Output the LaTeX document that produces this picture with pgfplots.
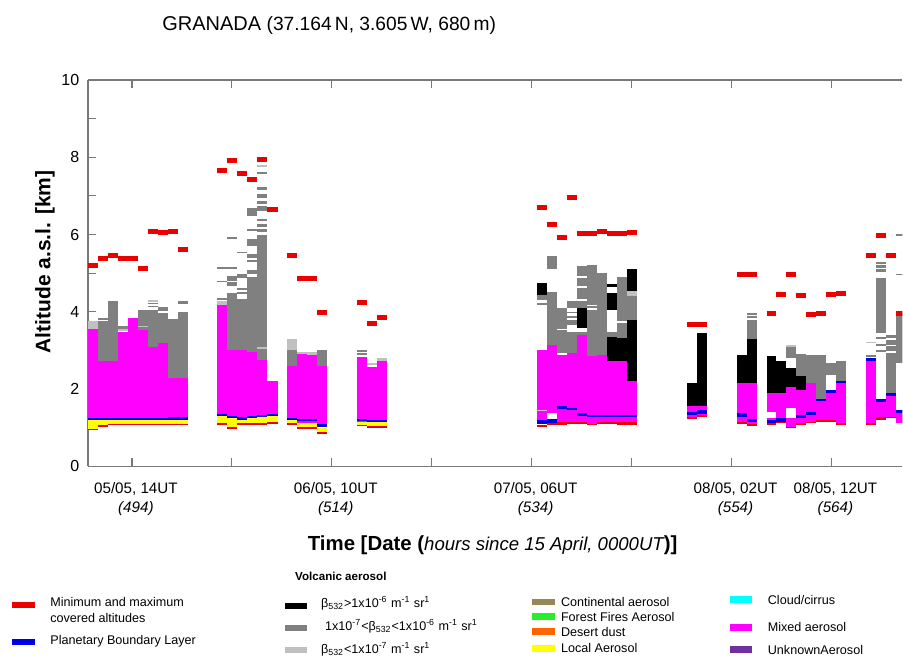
\documentclass[border=0pt]{standalone}
\usepackage{pgfplots}
\pgfplotsset{compat=1.18}
\usepackage{fontspec}
\setmainfont{Liberation Sans}

\definecolor{mag}{RGB}{255,0,255}
\definecolor{vgray}{RGB}{128,128,128}
\definecolor{vlight}{RGB}{192,192,192}
\definecolor{loc}{RGB}{255,255,0}
\definecolor{pbl}{RGB}{0,0,230}
\definecolor{mkred}{RGB}{235,0,0}
\definecolor{cont}{RGB}{150,135,85}
\definecolor{fire}{RGB}{40,240,40}
\definecolor{dust}{RGB}{255,100,0}
\definecolor{cloud}{RGB}{0,255,255}
\definecolor{unk}{RGB}{112,48,160}
\definecolor{axgray}{RGB}{120,120,120}

% layer rectangle: colour, x-left, x-right, bottom, top (hours, km)
\newcommand{\rb}[5]{\addplot[fill=#1,draw=none,forget plot] coordinates {(#2,#4) (#3,#4) (#3,#5) (#2,#5)};}
% min/max covered altitude marker
\newcommand{\mk}[3]{\addplot[draw=mkred,line width=2.5pt,forget plot] coordinates {(#1,#3) (#2,#3)};}

\begin{document}
\begin{tikzpicture}
\begin{scope}[x=0.5pt,y=-0.5pt,shift={(-44.15pt,233.35pt)}]
\useasboundingbox (0,0) rectangle (903,659);
\end{scope}

\begin{axis}[
  scale only axis,
  width=407.35pt, height=193.35pt,
  xmin=489.63, xmax=571.1,
  ymin=0, ymax=10,
  axis x line*=box,
  axis y line*=left,
  axis line style={draw=axgray,-},
  x axis line style={line width=0.6pt},
  y axis line style={line width=1.1pt},
  xtick={494,504,...,564},
  xticklabels={{05/05, 14UT\\\textit{(494)}},{},{06/05, 10UT\\\textit{(514)}},{},{07/05, 06UT\\\textit{(534)}},{},{08/05, 02UT\\\textit{(554)}},{08/05, 12UT\\\textit{(564)}}},
  xtick pos=both,
  ytick={0,2,...,10},
  minor ytick={1,3,...,9},
  ytick pos=left,
  tick align=inside,
  major tick length=4pt,
  minor tick length=4pt,
  tick style={axgray,line width=0.6pt},
  xticklabel style={align=center,font=\fontsize{7.6}{9.5}\selectfont,yshift=-4.5pt,xshift=2pt},
  yticklabel style={font=\fontsize{8}{9}\selectfont,xshift=-1pt},
  /pgf/number format/assume math mode=true,
]
% ---- group 1
\rb{mkred}{489.6}{490.6}{0.93}{0.98}
\rb{loc}{489.6}{490.6}{0.98}{1.19}
\rb{mag}{489.6}{490.6}{1.25}{3.56}
\rb{pbl}{489.6}{490.6}{1.19}{1.25}
\rb{vlight}{489.6}{490.6}{3.56}{3.77}
\mk{489.6}{490.6}{5.19}

\rb{mkred}{490.6}{491.6}{1.02}{1.06}
\rb{loc}{490.6}{491.6}{1.06}{1.19}
\rb{pbl}{490.6}{491.6}{1.19}{1.25}
\rb{mag}{490.6}{491.6}{1.25}{2.73}
\rb{vgray}{490.6}{491.6}{2.73}{3.75}
\rb{vgray}{490.6}{491.6}{3.80}{3.84}
\mk{490.6}{491.6}{5.39}

\rb{mkred}{491.6}{492.6}{1.06}{1.10}
\rb{loc}{491.6}{492.6}{1.10}{1.19}
\rb{pbl}{491.6}{492.6}{1.19}{1.26}
\rb{mag}{491.6}{492.6}{1.26}{2.73}
\rb{vgray}{491.6}{492.6}{2.73}{4.28}
\mk{491.6}{492.6}{5.47}

\rb{mkred}{492.6}{493.6}{1.06}{1.10}
\rb{loc}{492.6}{493.6}{1.10}{1.19}
\rb{pbl}{492.6}{493.6}{1.19}{1.26}
\rb{mag}{492.6}{493.6}{1.26}{3.49}
\rb{vlight}{492.6}{493.6}{3.50}{3.55}
\rb{vgray}{492.6}{493.6}{3.56}{3.62}
\mk{492.6}{493.6}{5.39}

\rb{mkred}{493.6}{494.6}{1.06}{1.10}
\rb{loc}{493.6}{494.6}{1.10}{1.19}
\rb{pbl}{493.6}{494.6}{1.19}{1.26}
\rb{mag}{493.6}{494.6}{1.26}{3.85}
\mk{493.6}{494.6}{5.39}

\rb{mkred}{494.6}{495.6}{1.06}{1.10}
\rb{loc}{494.6}{495.6}{1.10}{1.19}
\rb{pbl}{494.6}{495.6}{1.19}{1.26}
\rb{mag}{494.6}{495.6}{1.26}{3.53}
\rb{vgray}{494.6}{495.6}{3.53}{4.05}
\rb{vlight}{494.6}{495.6}{3.60}{3.64}
\mk{494.6}{495.6}{5.13}

\rb{mkred}{495.6}{496.6}{1.06}{1.10}
\rb{loc}{495.6}{496.6}{1.10}{1.19}
\rb{pbl}{495.6}{496.6}{1.19}{1.26}
\rb{mag}{495.6}{496.6}{1.26}{3.09}
\rb{vgray}{495.6}{496.6}{3.09}{4.05}
\rb{vgray}{495.6}{496.6}{4.12}{4.16}
\rb{vgray}{495.6}{496.6}{4.19}{4.22}
\rb{vlight}{495.6}{496.6}{4.26}{4.30}
\mk{495.6}{496.6}{6.08}

\rb{mkred}{496.6}{497.6}{1.06}{1.10}
\rb{loc}{496.6}{497.6}{1.10}{1.19}
\rb{pbl}{496.6}{497.6}{1.19}{1.26}
\rb{mag}{496.6}{497.6}{1.26}{3.19}
\rb{vgray}{496.6}{497.6}{3.19}{3.98}
\rb{vgray}{496.6}{497.6}{4.03}{4.12}
\mk{496.6}{497.6}{6.04}

\rb{mkred}{497.6}{498.6}{1.06}{1.10}
\rb{loc}{497.6}{498.6}{1.10}{1.21}
\rb{pbl}{497.6}{498.6}{1.21}{1.29}
\rb{mag}{497.6}{498.6}{1.29}{2.29}
\rb{vgray}{497.6}{498.6}{2.29}{3.82}
\mk{497.6}{498.6}{6.08}

\rb{mkred}{498.6}{499.6}{1.06}{1.10}
\rb{loc}{498.6}{499.6}{1.10}{1.21}
\rb{pbl}{498.6}{499.6}{1.21}{1.29}
\rb{mag}{498.6}{499.6}{1.29}{2.29}
\rb{vgray}{498.6}{499.6}{2.29}{3.99}
\rb{vgray}{498.6}{499.6}{4.21}{4.27}
\mk{498.6}{499.6}{5.62}

% ---- group 2
\rb{mkred}{502.5}{503.5}{1.07}{1.12}
\rb{loc}{502.5}{503.5}{1.12}{1.31}
\rb{pbl}{502.5}{503.5}{1.31}{1.36}
\rb{mag}{502.5}{503.5}{1.36}{4.18}
\rb{vlight}{502.5}{503.5}{4.18}{4.28}
\rb{vgray}{502.5}{503.5}{4.30}{4.35}
\rb{vgray}{502.5}{503.5}{4.76}{4.80}
\rb{vgray}{502.5}{503.5}{5.12}{5.16}
\mk{502.5}{503.5}{7.65}

\rb{mkred}{503.5}{504.5}{0.97}{1.03}
\rb{loc}{503.5}{504.5}{1.03}{1.24}
\rb{pbl}{503.5}{504.5}{1.24}{1.31}
\rb{mag}{503.5}{504.5}{1.31}{3.02}
\rb{vgray}{503.5}{504.5}{3.02}{4.48}
\rb{vgray}{503.5}{504.5}{4.66}{4.76}
\rb{vgray}{503.5}{504.5}{4.80}{4.92}
\rb{vgray}{503.5}{504.5}{5.11}{5.15}
\rb{vgray}{503.5}{504.5}{5.89}{5.93}
\mk{503.5}{504.5}{7.91}

\rb{mkred}{504.5}{505.5}{1.08}{1.12}
\rb{loc}{504.5}{505.5}{1.12}{1.21}
\rb{pbl}{504.5}{505.5}{1.21}{1.27}
\rb{mag}{504.5}{505.5}{1.27}{3.02}
\rb{vgray}{504.5}{505.5}{3.02}{4.33}
\rb{vgray}{504.5}{505.5}{4.45}{4.52}
\rb{vgray}{504.5}{505.5}{4.56}{4.62}
\rb{vgray}{504.5}{505.5}{4.88}{4.98}
\rb{vgray}{504.5}{505.5}{5.52}{5.56}
\mk{504.5}{505.5}{7.59}

\rb{mkred}{505.5}{506.5}{1.08}{1.12}
\rb{loc}{505.5}{506.5}{1.12}{1.24}
\rb{pbl}{505.5}{506.5}{1.24}{1.31}
\rb{mag}{505.5}{506.5}{1.31}{2.95}
\rb{vgray}{505.5}{506.5}{2.95}{4.91}
\rb{vgray}{505.5}{506.5}{4.98}{5.08}
\rb{vgray}{505.5}{506.5}{5.28}{5.34}
\rb{vgray}{505.5}{506.5}{5.40}{5.50}
\rb{vgray}{505.5}{506.5}{5.70}{5.88}
\rb{vgray}{505.5}{506.5}{6.10}{6.14}
\rb{vgray}{505.5}{506.5}{6.48}{6.68}
\mk{505.5}{506.5}{7.43}

\rb{mkred}{506.5}{507.5}{1.08}{1.12}
\rb{loc}{506.5}{507.5}{1.12}{1.28}
\rb{pbl}{506.5}{507.5}{1.28}{1.33}
\rb{mag}{506.5}{507.5}{1.33}{2.76}
\rb{vgray}{506.5}{507.5}{2.76}{5.99}
\rb{vlight}{506.5}{507.5}{3.05}{3.09}
\rb{vgray}{506.5}{507.5}{6.06}{6.14}
\rb{vgray}{506.5}{507.5}{6.20}{6.26}
\rb{vgray}{506.5}{507.5}{6.34}{6.40}
\rb{vgray}{506.5}{507.5}{6.62}{6.74}
\rb{vgray}{506.5}{507.5}{6.80}{6.86}
\rb{vgray}{506.5}{507.5}{6.94}{7.06}
\rb{vgray}{506.5}{507.5}{7.16}{7.22}
\rb{vgray}{506.5}{507.5}{7.56}{7.62}
\rb{vlight}{506.5}{507.5}{7.74}{7.80}
\mk{506.5}{507.5}{7.93}

\rb{mkred}{507.5}{508.6}{1.10}{1.16}
\rb{loc}{507.5}{508.6}{1.16}{1.31}
\rb{pbl}{507.5}{508.6}{1.31}{1.36}
\rb{mag}{507.5}{508.6}{1.36}{2.22}
\mk{507.5}{508.6}{6.66}

% ---- group 3
\rb{mkred}{509.5}{510.5}{1.07}{1.11}
\rb{loc}{509.5}{510.5}{1.11}{1.19}
\rb{pbl}{509.5}{510.5}{1.19}{1.25}
\rb{mag}{509.5}{510.5}{1.25}{2.59}
\rb{vgray}{509.5}{510.5}{2.59}{3.02}
\rb{vlight}{509.5}{510.5}{3.02}{3.30}
\mk{509.5}{510.5}{5.47}

\rb{mkred}{510.5}{511.5}{0.97}{1.01}
\rb{loc}{510.5}{511.5}{1.01}{1.12}
\rb{mag}{510.5}{511.5}{1.12}{2.91}
\rb{pbl}{510.5}{511.5}{1.18}{1.23}
\rb{vlight}{510.5}{511.5}{2.91}{2.97}
\mk{510.5}{511.5}{4.87}

\rb{mkred}{511.5}{512.5}{0.98}{1.02}
\rb{loc}{511.5}{512.5}{1.02}{1.13}
\rb{mag}{511.5}{512.5}{1.13}{2.89}
\rb{pbl}{511.5}{512.5}{1.17}{1.22}
\rb{vlight}{511.5}{512.5}{2.89}{2.95}
\mk{511.5}{512.5}{4.87}

\rb{mkred}{512.5}{513.5}{0.85}{0.90}
\rb{loc}{512.5}{513.5}{0.90}{1.00}
\rb{pbl}{512.5}{513.5}{1.02}{1.10}
\rb{mag}{512.5}{513.5}{1.10}{2.59}
\rb{vgray}{512.5}{513.5}{2.59}{3.00}
\mk{512.5}{513.5}{3.97}

% ---- group 4
\rb{mkred}{516.5}{517.5}{1.04}{1.08}
\rb{loc}{516.5}{517.5}{1.08}{1.15}
\rb{mag}{516.5}{517.5}{1.15}{2.83}
\rb{pbl}{516.5}{517.5}{1.17}{1.23}
\rb{vgray}{516.5}{517.5}{2.88}{2.93}
\rb{vgray}{516.5}{517.5}{2.96}{3.02}
\mk{516.5}{517.5}{4.25}

\rb{mkred}{517.5}{518.5}{1.00}{1.04}
\rb{loc}{517.5}{518.5}{1.04}{1.16}
\rb{pbl}{517.5}{518.5}{1.16}{1.21}
\rb{mag}{517.5}{518.5}{1.21}{2.57}
\rb{vlight}{517.5}{518.5}{2.62}{2.68}
\mk{517.5}{518.5}{3.71}

\rb{mkred}{518.5}{519.5}{1.00}{1.04}
\rb{loc}{518.5}{519.5}{1.04}{1.16}
\rb{pbl}{518.5}{519.5}{1.16}{1.21}
\rb{mag}{518.5}{519.5}{1.21}{2.72}
\rb{vlight}{518.5}{519.5}{2.72}{2.80}
\mk{518.5}{519.5}{3.86}

% ---- group 5
\rb{mkred}{534.5}{535.5}{1.02}{1.06}
\rb{pbl}{534.5}{535.5}{1.10}{1.21}
\rb{mag}{534.5}{535.5}{1.21}{3.02}
\rb{vlight}{534.5}{535.5}{1.43}{1.47}
\rb{vgray}{534.5}{535.5}{4.18}{4.24}
\rb{vgray}{534.5}{535.5}{4.31}{4.44}
\rb{black}{534.5}{535.5}{4.44}{4.74}
\mk{534.5}{535.5}{6.70}

\rb{mkred}{535.5}{536.5}{1.08}{1.12}
\rb{pbl}{535.5}{536.5}{1.12}{1.23}
\rb{mag}{535.5}{536.5}{1.38}{3.15}
\rb{vgray}{535.5}{536.5}{3.15}{4.50}
\rb{vgray}{535.5}{536.5}{5.10}{5.45}
\mk{535.5}{536.5}{6.27}

\rb{mkred}{536.5}{537.5}{1.08}{1.14}
\rb{mag}{536.5}{537.5}{1.14}{2.89}
\rb{pbl}{536.5}{537.5}{1.49}{1.55}
\rb{vgray}{536.5}{537.5}{2.93}{4.10}
\rb{white}{536.5}{537.5}{3.52}{3.56}
\mk{536.5}{537.5}{5.93}

\rb{mkred}{537.5}{538.5}{1.10}{1.14}
\rb{mag}{537.5}{538.5}{1.14}{2.93}
\rb{pbl}{537.5}{538.5}{1.46}{1.52}
\rb{vgray}{537.5}{538.5}{2.93}{3.49}
\rb{vgray}{537.5}{538.5}{3.66}{3.79}
\rb{vgray}{537.5}{538.5}{3.85}{3.90}
\rb{vgray}{537.5}{538.5}{3.97}{4.00}
\rb{vgray}{537.5}{538.5}{4.10}{4.27}
\mk{537.5}{538.5}{6.97}

\rb{mkred}{538.5}{539.5}{1.10}{1.14}
\rb{mag}{538.5}{539.5}{1.14}{3.41}
\rb{pbl}{538.5}{539.5}{1.30}{1.39}
\rb{vgray}{538.5}{539.5}{3.41}{3.49}
\rb{black}{538.5}{539.5}{3.58}{4.10}
\rb{vgray}{538.5}{539.5}{4.10}{5.19}
\rb{white}{538.5}{539.5}{4.29}{4.33}
\rb{white}{538.5}{539.5}{4.62}{4.66}
\rb{white}{538.5}{539.5}{4.88}{4.92}
\mk{538.5}{539.5}{6.02}

\rb{mkred}{539.5}{540.5}{1.06}{1.10}
\rb{mag}{539.5}{540.5}{1.10}{2.85}
\rb{pbl}{539.5}{540.5}{1.28}{1.33}
\rb{vgray}{539.5}{540.5}{2.85}{5.22}
\rb{white}{539.5}{540.5}{4.05}{4.09}
\rb{white}{539.5}{540.5}{4.14}{4.18}
\mk{539.5}{540.5}{6.02}

\rb{mkred}{540.5}{541.5}{1.10}{1.14}
\rb{mag}{540.5}{541.5}{1.14}{2.89}
\rb{pbl}{540.5}{541.5}{1.28}{1.33}
\rb{vgray}{540.5}{541.5}{2.89}{5.00}
\mk{540.5}{541.5}{6.08}

\rb{mkred}{541.5}{542.5}{1.10}{1.14}
\rb{mag}{541.5}{542.5}{1.14}{2.72}
\rb{pbl}{541.5}{542.5}{1.28}{1.33}
\rb{black}{541.5}{542.5}{2.72}{3.36}
\rb{vgray}{541.5}{542.5}{3.36}{3.49}
\rb{black}{541.5}{542.5}{4.05}{4.48}
\rb{black}{541.5}{542.5}{4.64}{4.72}
\mk{541.5}{542.5}{6.02}

\rb{mkred}{542.5}{543.5}{1.08}{1.14}
\rb{mag}{542.5}{543.5}{1.14}{2.72}
\rb{pbl}{542.5}{543.5}{1.28}{1.33}
\rb{black}{542.5}{543.5}{2.72}{3.32}
\rb{vgray}{542.5}{543.5}{3.32}{4.89}
\rb{white}{542.5}{543.5}{3.71}{3.75}
\mk{542.5}{543.5}{6.02}

\rb{mkred}{543.5}{544.5}{1.08}{1.14}
\rb{mag}{543.5}{544.5}{1.14}{2.20}
\rb{pbl}{543.5}{544.5}{1.28}{1.33}
\rb{black}{543.5}{544.5}{2.20}{3.79}
\rb{vgray}{543.5}{544.5}{3.79}{4.40}
\rb{vlight}{543.5}{544.5}{4.40}{4.53}
\rb{black}{543.5}{544.5}{4.53}{5.10}
\mk{543.5}{544.5}{6.06}

% ---- group 6
\rb{mkred}{549.5}{550.5}{1.22}{1.28}
\rb{mag}{549.5}{550.5}{1.28}{1.55}
\rb{pbl}{549.5}{550.5}{1.33}{1.40}
\rb{black}{549.5}{550.5}{1.55}{2.16}
\mk{549.5}{550.5}{3.66}

\rb{mkred}{550.5}{551.5}{1.28}{1.33}
\rb{mag}{550.5}{551.5}{1.33}{1.55}
\rb{pbl}{550.5}{551.5}{1.36}{1.47}
\rb{black}{550.5}{551.5}{1.55}{3.45}
\mk{550.5}{551.5}{3.66}

\rb{mkred}{554.5}{555.5}{1.09}{1.14}
\rb{mag}{554.5}{555.5}{1.14}{2.17}
\rb{pbl}{554.5}{555.5}{1.29}{1.38}
\rb{black}{554.5}{555.5}{2.17}{2.89}
\mk{554.5}{555.5}{4.97}

\rb{mkred}{555.5}{556.5}{1.05}{1.10}
\rb{mag}{555.5}{556.5}{1.10}{2.15}
\rb{pbl}{555.5}{556.5}{1.14}{1.23}
\rb{black}{555.5}{556.5}{2.15}{3.29}
\rb{vgray}{555.5}{556.5}{3.29}{3.79}
\rb{vgray}{555.5}{556.5}{3.83}{3.88}
\rb{vgray}{555.5}{556.5}{3.92}{3.97}
\mk{555.5}{556.5}{4.97}

\rb{mkred}{557.5}{558.5}{1.08}{1.12}
\rb{pbl}{557.5}{558.5}{1.12}{1.21}
\rb{mag}{557.5}{558.5}{1.21}{1.91}
\rb{white}{557.5}{558.5}{1.25}{1.42}
\rb{black}{557.5}{558.5}{1.91}{2.86}
\mk{557.5}{558.5}{3.95}

\rb{mkred}{558.5}{559.5}{1.11}{1.16}
\rb{pbl}{558.5}{559.5}{1.16}{1.25}
\rb{mag}{558.5}{559.5}{1.25}{1.90}
\rb{black}{558.5}{559.5}{1.90}{2.73}
\mk{558.5}{559.5}{4.44}

\rb{mkred}{559.5}{560.5}{0.99}{1.03}
\rb{mag}{559.5}{560.5}{1.03}{2.05}
\rb{white}{559.5}{560.5}{1.25}{1.52}
\rb{black}{559.5}{560.5}{2.05}{2.54}
\rb{vgray}{559.5}{560.5}{2.80}{3.09}
\rb{vlight}{559.5}{560.5}{3.10}{3.15}
\mk{559.5}{560.5}{4.97}

\rb{mkred}{560.5}{561.5}{1.08}{1.13}
\rb{mag}{560.5}{561.5}{1.13}{1.98}
\rb{pbl}{560.5}{561.5}{1.26}{1.34}
\rb{black}{560.5}{561.5}{1.98}{2.35}
\rb{vgray}{560.5}{561.5}{2.35}{2.91}
\mk{560.5}{561.5}{4.41}

\rb{mkred}{561.5}{562.5}{1.12}{1.16}
\rb{mag}{561.5}{562.5}{1.16}{2.16}
\rb{pbl}{561.5}{562.5}{1.34}{1.40}
\rb{vgray}{561.5}{562.5}{2.16}{2.89}
\mk{561.5}{562.5}{3.94}

\rb{mkred}{562.5}{563.5}{1.16}{1.21}
\rb{mag}{562.5}{563.5}{1.21}{1.72}
\rb{pbl}{562.5}{563.5}{1.68}{1.74}
\rb{vgray}{562.5}{563.5}{1.74}{2.89}
\mk{562.5}{563.5}{3.96}

\rb{mkred}{563.5}{564.5}{1.16}{1.21}
\rb{mag}{563.5}{564.5}{1.21}{1.91}
\rb{pbl}{563.5}{564.5}{1.91}{1.97}
\rb{vgray}{563.5}{564.5}{2.37}{2.67}
\mk{563.5}{564.5}{4.44}

\rb{mkred}{564.5}{565.5}{1.08}{1.12}
\rb{mag}{564.5}{565.5}{1.12}{2.15}
\rb{pbl}{564.5}{565.5}{2.15}{2.20}
\rb{vgray}{564.5}{565.5}{2.20}{2.72}
\mk{564.5}{565.5}{4.47}

% ---- group 7
\rb{mkred}{567.5}{568.5}{1.07}{1.12}
\rb{mag}{567.5}{568.5}{1.12}{2.74}
\rb{pbl}{567.5}{568.5}{2.74}{2.81}
\rb{vgray}{567.5}{568.5}{2.83}{2.89}
\rb{vlight}{567.5}{568.5}{3.19}{3.23}
\mk{567.5}{568.5}{5.47}

\rb{mkred}{568.5}{569.5}{1.20}{1.27}
\rb{mag}{568.5}{569.5}{1.27}{1.66}
\rb{pbl}{568.5}{569.5}{1.66}{1.74}
\rb{vgray}{568.5}{569.5}{2.95}{3.00}
\rb{vgray}{568.5}{569.5}{3.12}{3.18}
\rb{vgray}{568.5}{569.5}{3.30}{3.36}
\rb{vgray}{568.5}{569.5}{3.45}{4.87}
\rb{vgray}{568.5}{569.5}{5.04}{5.10}
\rb{vgray}{568.5}{569.5}{5.14}{5.20}
\rb{vgray}{568.5}{569.5}{5.24}{5.30}
\mk{568.5}{569.5}{5.97}

\rb{mkred}{569.5}{570.5}{1.24}{1.29}
\rb{mag}{569.5}{570.5}{1.29}{1.83}
\rb{pbl}{569.5}{570.5}{1.83}{1.90}
\rb{vgray}{569.5}{570.5}{1.90}{3.41}
\rb{white}{569.5}{570.5}{3.28}{3.32}
\rb{white}{569.5}{570.5}{3.11}{3.15}
\rb{white}{569.5}{570.5}{2.94}{2.98}
\mk{569.5}{570.5}{5.45}

\rb{mag}{570.5}{571.5}{1.12}{1.38}
\rb{pbl}{570.5}{571.5}{1.38}{1.47}
\rb{vgray}{570.5}{571.5}{2.67}{3.97}
\rb{vgray}{570.5}{571.5}{4.94}{4.98}
\rb{vgray}{570.5}{571.5}{5.97}{6.01}
\mk{570.5}{571.5}{3.95}
\end{axis}

\begin{scope}[x=0.5pt,y=-0.5pt,shift={(-44.15pt,233.35pt)},
  every node/.style={inner sep=0pt,anchor=west,font=\fontsize{6.3}{7.5}\selectfont}]
\node[anchor=base west,font=\fontsize{10}{12}\selectfont] at (162,31)
  {GRANADA {\fontsize{9.6}{11}\selectfont (37.164\,N, 3.605\,W, 680\,m)}};
\node[rotate=90,anchor=center,font=\bfseries\fontsize{10.5}{12}\selectfont] at (45,262) {Altitude a.s.l. [km]};
\node[anchor=center,font=\bfseries\fontsize{10.2}{12}\selectfont] at (493,546)
  {Time [Date ({\mdseries\itshape\fontsize{9.3}{11}\selectfont hours since 15 April, 0000UT})]};
\node[font=\bfseries\fontsize{5.8}{7}\selectfont] at (295,577) {Volcanic aerosol};

\fill[mkred] (12,602) rectangle (35,608);
\node at (50,602) {Minimum and maximum};
\node at (50,618) {covered altitudes};
\fill[pbl] (12,639) rectangle (35,645);
\node at (50,642) {Planetary Boundary Layer};

\fill[black] (285,603) rectangle (307,609);
\node at (321,604) {β\textsubscript{532}>1x10\textsuperscript{-6} m\textsuperscript{-1} sr\textsuperscript{1}};
\fill[vgray] (285,625) rectangle (307,631);
\node at (325,627) {1x10\textsuperscript{-7}<β\textsubscript{532}<1x10\textsuperscript{-6} m\textsuperscript{-1} sr\textsuperscript{1}};
\fill[vlight] (285,647) rectangle (307,653);
\node at (321,650) {β\textsubscript{532}<1x10\textsuperscript{-7} m\textsuperscript{-1} sr\textsuperscript{1}};

\fill[cont] (532,599) rectangle (555,605);
\node at (561,602) {Continental aerosol};
\fill[fire] (532,613) rectangle (555,620);
\node at (561,617) {Forest Fires Aerosol};
\fill[dust] (532,628) rectangle (555,635);
\node at (561,632) {Desert dust};
\fill[loc] (532,645) rectangle (555,652);
\node at (561,648) {Local Aerosol};

\fill[cloud] (730,596) rectangle (752,603);
\node at (768,600) {Cloud/cirrus};
\fill[mag] (730,624) rectangle (752,631);
\node at (768,627) {Mixed aerosol};
\fill[unk] (730,646) rectangle (752,653);
\node at (768,650) {UnknownAerosol};
\end{scope}
\end{tikzpicture}
\end{document}
